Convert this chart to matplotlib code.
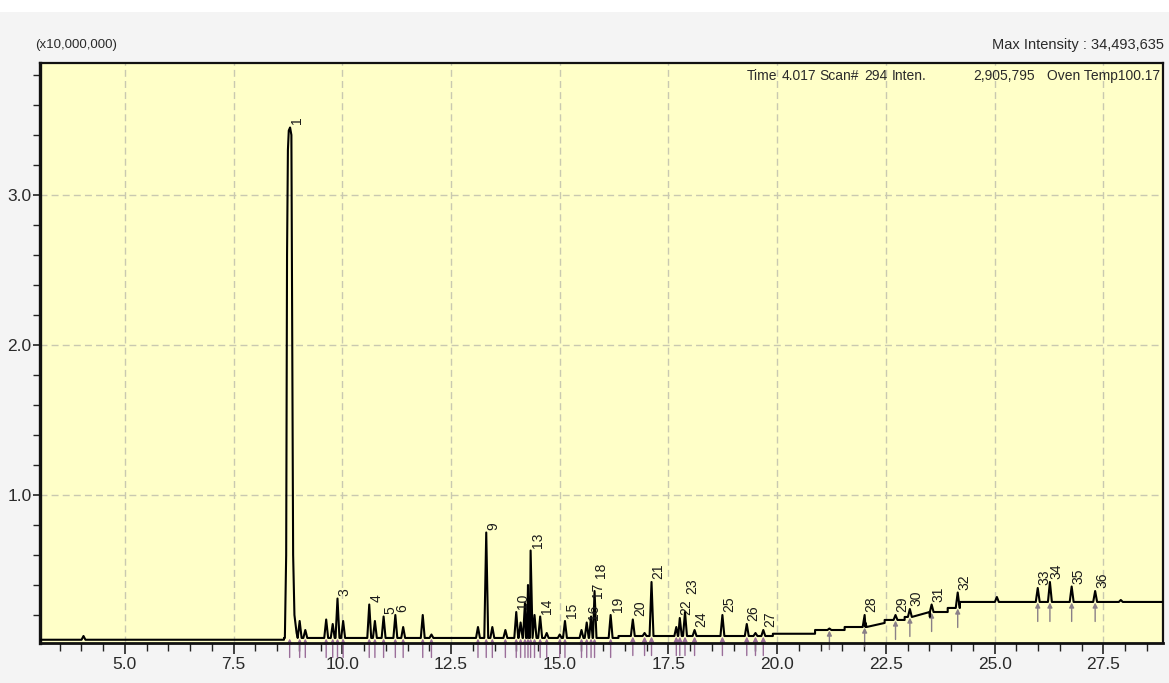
import matplotlib
matplotlib.use('Agg')
import matplotlib.pyplot as plt
from matplotlib.ticker import MultipleLocator, FixedLocator
from matplotlib.patches import Rectangle
import numpy as np

# ---------------- data ----------------
# baseline levels (x10,000,000) as steps starting at the given retention time (min)
base_t = [3.05, 8.66, 16.35, 19.90, 20.87, 21.55, 22.03, 22.47, 22.93, 23.51, 23.92, 24.20]
base_y = [0.035, 0.047, 0.060, 0.075, 0.100, 0.120, 0.147, 0.167, 0.187, 0.220, 0.247, 0.287]
run_end = 28.87

# profile of the dominant peak 1
main_t = [8.68, 8.71, 8.73, 8.75, 8.77, 8.80, 8.83, 8.85, 8.87, 8.90, 8.95]
main_y = [0.047, 0.60, 2.60, 3.30, 3.43, 3.45, 3.40, 2.00, 0.60, 0.20, 0.08]

# labelled peaks
pk_label = ['1', '3', '4', '5', '6', '9', '10', '13', '14', '15', '16', '17',
            '18', '19', '20', '21', '22', '23', '24', '25', '26', '27', '28', '29', '30',
            '31', '32', '33', '34', '35', '36']
pk_time = [8.79, 9.89, 10.62, 10.95, 11.22, 13.31, 14.00, 14.33, 14.55,
           15.12, 15.62, 15.72, 15.80, 16.17, 16.68, 17.11, 17.76, 17.88, 18.10, 18.74,
           19.30, 19.68, 22.01, 22.72, 23.05, 23.55, 24.15, 25.99, 26.27, 26.77, 27.31]
pk_height = [3.45, 0.31, 0.27, 0.19, 0.20, 0.75, 0.22, 0.63, 0.19,
             0.16, 0.15, 0.19, 0.36, 0.20, 0.17, 0.42, 0.18, 0.22, 0.10, 0.20,
             0.14, 0.10, 0.20, 0.20, 0.24, 0.27, 0.35, 0.38, 0.42, 0.39, 0.36]

# small peaks whose labels are hidden in the original
mn_time = [4.05, 9.02, 9.15, 9.63, 9.78, 10.02, 10.75, 11.40, 11.85, 12.05, 13.12, 13.45,
           13.75, 14.10, 14.20, 14.27, 14.42, 14.70, 15.00, 15.50, 16.95, 17.68, 19.50,
           21.20, 25.05, 27.90]
mn_height = [0.06, 0.16, 0.10, 0.17, 0.14, 0.16, 0.16, 0.12, 0.20, 0.07, 0.12, 0.12,
             0.10, 0.15, 0.28, 0.40, 0.20, 0.08, 0.07, 0.10, 0.08, 0.12, 0.08,
             0.11, 0.32, 0.30]

x_major = [5.0, 7.5, 10.0, 12.5, 15.0, 17.5, 20.0, 22.5, 25.0, 27.5]
y_major = [1.0, 2.0, 3.0]

# ---------------- styling ----------------
FONT = ['Liberation Sans', 'DejaVu Sans']
TXT = '#2a2a2a'
W, H = 1169, 683

fig = plt.figure(figsize=(W / 100, H / 100), dpi=100, facecolor='#f4f4f4')
fig.patches.append(Rectangle((0, 1 - 12 / H), 1, 12 / H, transform=fig.transFigure,
                             facecolor='white', edgecolor='none', zorder=-1))
L, R, T, B = 40, 1163, 63, 643
ax = fig.add_axes([L / W, 1 - B / H, (R - L) / W, (B - T) / H])
ax.set_facecolor('#ffffc8')
ax.set_xlim(3.05, run_end)
ax.set_ylim((645 - B) / 150, (645 - T) / 150)


def base_at(t):
    i = int(np.searchsorted(base_t, t, side='right')) - 1
    return base_y[max(i, 0)]


# build trace from the read values
pts = [(base_t[0], base_y[0])]
prev = base_y[0]
for bt, by in zip(base_t[1:], base_y[1:]):
    pts.append((bt, prev))
    pts.append((bt, by))
    prev = by
pts.append((run_end, prev))
pts += list(zip(main_t, main_y))
hw = 0.045
for lab, t, h in zip(pk_label, pk_time, pk_height):
    if lab == '1':
        continue
    b = base_at(t)
    pts += [(t - hw, b), (t, h), (t + hw, b)]
for t, h in zip(mn_time, mn_height):
    b = base_at(t)
    pts += [(t - hw, b), (t, h), (t + hw, b)]
pts.sort(key=lambda p: p[0])
tx = [p[0] for p in pts]
ty = [p[1] for p in pts]

# grid
for xv in x_major:
    ax.axvline(xv, color='#c9c9b0', lw=1.0, dashes=(5, 3), zorder=1)
for yv in y_major:
    ax.axhline(yv, color='#c9c9b0', lw=1.0, dashes=(5, 3), zorder=1)

ax.plot(tx, ty, color='black', lw=1.5, zorder=3)

# peak marker arrows under the baseline
arrow_times = [t for t in pk_time] + [t for t in mn_time if 8.5 < t < 24.5]
for t in arrow_times:
    b = base_at(t)
    col = '#9a6e9a' if t < 20 else '#8a8088'
    ax.annotate('', xy=(t, b - 0.004), xytext=(t, b - 0.13),
                arrowprops=dict(arrowstyle='-|>', color=col, lw=1.0, mutation_scale=7,
                                shrinkA=0, shrinkB=0, clip_on=False),
                annotation_clip=False, zorder=2)

# peak labels, stacked like the instrument software
placed = []
for lab, t, h in sorted(zip(pk_label, pk_time, pk_height), key=lambda p: p[1]):
    y0 = h + 0.02
    lh = 0.055 * len(lab) + 0.02
    moved = True
    while moved:
        moved = False
        for (pt, py0, py1) in placed:
            if abs(pt - t) < 0.2 and y0 < py1 and y0 + lh > py0:
                y0 = py1 + 0.01
                moved = True
    placed.append((t, y0, y0 + lh))
    ax.annotate(lab, xy=(t, y0), xytext=(5, 0), textcoords='offset points',
                rotation=90, ha='center', va='bottom', fontsize=10,
                family=FONT, color='#1a1a1a', zorder=4, annotation_clip=False)

# ticks
ax.xaxis.set_major_locator(FixedLocator(x_major))
ax.xaxis.set_minor_locator(MultipleLocator(0.5))
ax.set_xticklabels([f'{v:.1f}' for v in x_major])
ax.yaxis.set_major_locator(FixedLocator(y_major))
ax.yaxis.set_minor_locator(MultipleLocator(0.2))
ax.set_yticklabels([f'{v:.1f}' for v in y_major])
ax.tick_params(axis='both', which='both', direction='out', colors='#222222')
ax.tick_params(axis='x', which='major', length=8, width=1.2, pad=2, labelsize=12.5,
               labelcolor=TXT)
ax.tick_params(axis='x', which='minor', length=6, width=1.0)
ax.tick_params(axis='y', which='major', length=5, width=1.2, pad=1, labelsize=12.5,
               labelcolor=TXT)
ax.tick_params(axis='y', which='minor', length=5, width=1.0)
for lbl in ax.get_xticklabels() + ax.get_yticklabels():
    lbl.set_family(FONT)

for side, lw in (('left', 2.4), ('bottom', 2.0), ('top', 1.6), ('right', 1.6)):
    ax.spines[side].set_linewidth(lw)
    ax.spines[side].set_color('#111111')

# header texts
fig.text(35 / W, 1 - 45 / H, '(x10,000,000)', ha='left', va='center', fontsize=9.5,
         family=FONT, color=TXT)
fig.text(1164 / W, 1 - 45 / H, 'Max Intensity : 34,493,635', ha='right', va='center',
         fontsize=10.5, family=FONT, color=TXT)
for s, xc in (('Time', 762), ('4.017', 799), ('Scan#', 839), ('294', 876),
              ('Inten.', 909)):
    fig.text(xc / W, 1 - 76 / H, s, ha='center', va='center', fontsize=10,
             family=FONT, color=TXT)
fig.text(1035 / W, 1 - 76 / H, '2,905,795', ha='right', va='center', fontsize=10,
         family=FONT, color=TXT)
fig.text(1160 / W, 1 - 76 / H, 'Oven Temp100.17', ha='right', va='center', fontsize=10,
         family=FONT, color=TXT)

fig.savefig('out.png', dpi=100, facecolor=fig.get_facecolor())
